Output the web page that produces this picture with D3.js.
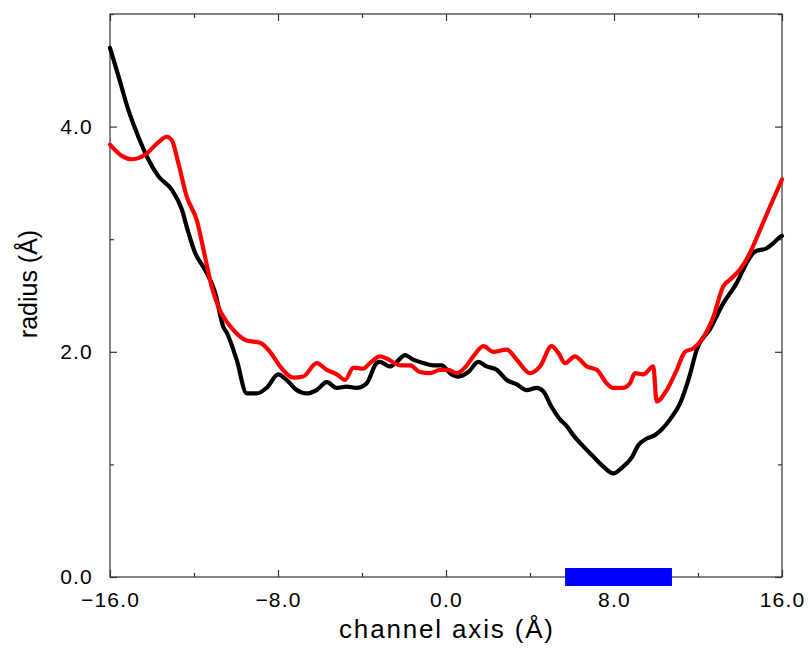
<!DOCTYPE html>
<html>
<head>
    <meta charset="utf-8" />
    <title>Channel radius profile</title>
    <script src="https://d3js.org/d3.v7.min.js"></script>
    <style>
        body { margin: 0; background: #fff; }
        text { font-family: "Liberation Sans", Arial, Helvetica, sans-serif; }
        .axis path { display: none; }
        .axis line { stroke: #333; stroke-width: 1.2; }
        .axis text { font-size: 21px; fill: #000; letter-spacing: 1.2px; }
    </style>
</head>
<body>
<script type="text/javascript">
    // black profile: [channel axis, radius]
    var blackX = [-16.00, -15.60, -15.13, -14.65, -14.18, -13.70, -13.06, -12.59, -12.27, -11.95, -11.48, -11.00, -10.60, -10.44, -9.97, -9.49, -9.01, -8.54, -7.99, -7.59, -7.11, -6.63, -6.16, -5.68, -5.20, -4.73, -4.25, -3.78, -3.30, -3.14, -2.67, -2.35, -1.95, -1.56, -1.08, -0.60, -0.20, 0.19, 0.59, 1.06, 1.54, 1.94, 2.41, 2.89, 3.37, 3.84, 4.32, 4.63, 5.03, 5.43, 5.75, 6.06, 6.54, 7.01, 7.49, 7.97, 8.37, 8.84, 9.16, 9.56, 9.95, 10.27, 10.67, 11.14, 11.62, 11.94, 12.57, 13.20, 13.84, 14.32, 14.71, 15.27, 15.67, 15.90, 16.00];
    var blackY = [4.70, 4.45, 4.15, 3.91, 3.71, 3.56, 3.44, 3.27, 3.06, 2.88, 2.73, 2.53, 2.22, 2.17, 1.93, 1.63, 1.63, 1.68, 1.80, 1.75, 1.66, 1.63, 1.66, 1.73, 1.68, 1.69, 1.68, 1.72, 1.90, 1.91, 1.87, 1.91, 1.97, 1.93, 1.90, 1.88, 1.88, 1.81, 1.78, 1.82, 1.91, 1.87, 1.84, 1.75, 1.71, 1.66, 1.68, 1.65, 1.51, 1.40, 1.34, 1.26, 1.16, 1.07, 0.98, 0.92, 0.97, 1.06, 1.17, 1.23, 1.26, 1.31, 1.40, 1.54, 1.80, 2.02, 2.20, 2.43, 2.61, 2.79, 2.89, 2.92, 2.98, 3.02, 3.03];

    // red profile
    var redX = [-16.00, -15.44, -14.97, -14.33, -13.70, -13.30, -13.06, -12.75, -12.35, -11.87, -11.48, -11.16, -10.84, -10.20, -9.49, -8.86, -8.38, -7.90, -7.27, -6.80, -6.16, -5.68, -5.20, -4.81, -4.41, -3.94, -3.62, -3.14, -2.82, -2.19, -1.71, -1.24, -0.76, -0.29, 0.11, 0.51, 0.90, 1.30, 1.78, 2.25, 2.89, 3.37, 4.00, 4.48, 5.03, 5.35, 5.67, 6.14, 6.70, 7.18, 7.65, 7.97, 8.44, 8.76, 9.00, 9.40, 9.87, 10.03, 10.51, 10.99, 11.38, 11.78, 12.18, 12.73, 13.20, 13.52, 14.00, 14.48, 14.95, 15.43, 16.00];
    var redY = [3.84, 3.74, 3.71, 3.75, 3.86, 3.91, 3.88, 3.68, 3.38, 3.17, 2.85, 2.58, 2.40, 2.21, 2.10, 2.08, 2.00, 1.87, 1.77, 1.78, 1.90, 1.84, 1.80, 1.75, 1.86, 1.85, 1.90, 1.96, 1.94, 1.88, 1.88, 1.82, 1.81, 1.84, 1.84, 1.81, 1.86, 1.96, 2.05, 2.00, 2.02, 1.93, 1.81, 1.87, 2.05, 1.99, 1.90, 1.96, 1.87, 1.84, 1.72, 1.68, 1.68, 1.72, 1.81, 1.80, 1.87, 1.56, 1.66, 1.84, 2.00, 2.03, 2.11, 2.31, 2.58, 2.64, 2.73, 2.88, 3.08, 3.29, 3.53];

    // blue segment on the axis
    var segment = [5.67, 10.76];

    var xMajor = [-16, -8, 0, 8, 16];
    var xMinor = [-12, -4, 4, 12];
    var yMajor = [0, 2, 4];
    var yMinor = [1, 3, 5];

    var width = 810, height = 648;
    var plotL = 110, plotR = 782, plotT = 14, plotB = 577;

    var x = d3.scaleLinear().domain([-16, 16]).range([plotL, plotR]);
    var y = d3.scaleLinear().domain([0, 5]).range([plotB, plotT]);

    var svg = d3.select('body')
        .append('svg')
        .attr('width', width)
        .attr('height', height);

    var fmt = d3.format('.1f');
    var fmtX = function (d) { return d3.format('.1f')(d).replace('-', '\u2212'); };

    // major + minor ticks on all four sides, pointing inward
    svg.append('g').attr('class', 'axis')
        .attr('transform', 'translate(0,' + plotB + ')')
        .call(d3.axisBottom(x).tickValues(xMajor).tickSizeInner(-7).tickSizeOuter(0).tickPadding(15).tickFormat(fmtX));
    svg.append('g').attr('class', 'axis')
        .attr('transform', 'translate(0,' + plotB + ')')
        .call(d3.axisBottom(x).tickValues(xMinor).tickSizeInner(-4).tickSizeOuter(0).tickFormat(''));
    svg.append('g').attr('class', 'axis')
        .attr('transform', 'translate(0,' + plotT + ')')
        .call(d3.axisTop(x).tickValues(xMajor).tickSizeInner(-7).tickSizeOuter(0).tickFormat(''));
    svg.append('g').attr('class', 'axis')
        .attr('transform', 'translate(0,' + plotT + ')')
        .call(d3.axisTop(x).tickValues(xMinor).tickSizeInner(-4).tickSizeOuter(0).tickFormat(''));

    svg.append('g').attr('class', 'axis')
        .attr('transform', 'translate(' + plotL + ',0)')
        .call(d3.axisLeft(y).tickValues(yMajor).tickSizeInner(-7).tickSizeOuter(0).tickPadding(17).tickFormat(fmt));
    svg.append('g').attr('class', 'axis')
        .attr('transform', 'translate(' + plotL + ',0)')
        .call(d3.axisLeft(y).tickValues(yMinor).tickSizeInner(-4).tickSizeOuter(0).tickFormat(''));
    svg.append('g').attr('class', 'axis')
        .attr('transform', 'translate(' + plotR + ',0)')
        .call(d3.axisRight(y).tickValues(yMajor).tickSizeInner(-7).tickSizeOuter(0).tickFormat(''));
    svg.append('g').attr('class', 'axis')
        .attr('transform', 'translate(' + plotR + ',0)')
        .call(d3.axisRight(y).tickValues(yMinor).tickSizeInner(-4).tickSizeOuter(0).tickFormat(''));

    // frame
    svg.append('rect')
        .attr('x', plotL)
        .attr('y', plotT)
        .attr('width', plotR - plotL)
        .attr('height', plotB - plotT)
        .attr('fill', 'none')
        .attr('stroke', '#333')
        .attr('stroke-width', 1.2);

    var line = d3.line()
        .x(function (d) { return x(d[0]); })
        .y(function (d) { return y(d[1]); })
        .curve(d3.curveMonotoneX);

    var series = [
        { color: '#000000', pts: d3.zip(blackX, blackY) },
        { color: '#ff0000', pts: d3.zip(redX, redY) }
    ];

    series.forEach(function (s) {
        svg.append('path')
            .datum(s.pts)
            .attr('d', line)
            .attr('fill', 'none')
            .attr('stroke', s.color)
            .attr('stroke-width', 4.2)
            .attr('stroke-linejoin', 'round')
            .attr('stroke-linecap', 'round');
    });

    svg.append('rect')
        .attr('x', x(segment[0]))
        .attr('y', y(0) - 9)
        .attr('width', x(segment[1]) - x(segment[0]))
        .attr('height', 18)
        .attr('fill', '#0000ff');

    svg.append('text')
        .attr('x', (plotL + plotR) / 2)
        .attr('y', 638)
        .attr('text-anchor', 'middle')
        .attr('textLength', 214)
        .attr('lengthAdjust', 'spacing')
        .style('font-size', '26px')
        .text('channel axis (\u00c5)');

    svg.append('text')
        .attr('transform', 'translate(37,284) rotate(-90)')
        .attr('text-anchor', 'middle')
        .style('font-size', '25px')
        .text('radius (\u00c5)');
</script>
</body>
</html>
